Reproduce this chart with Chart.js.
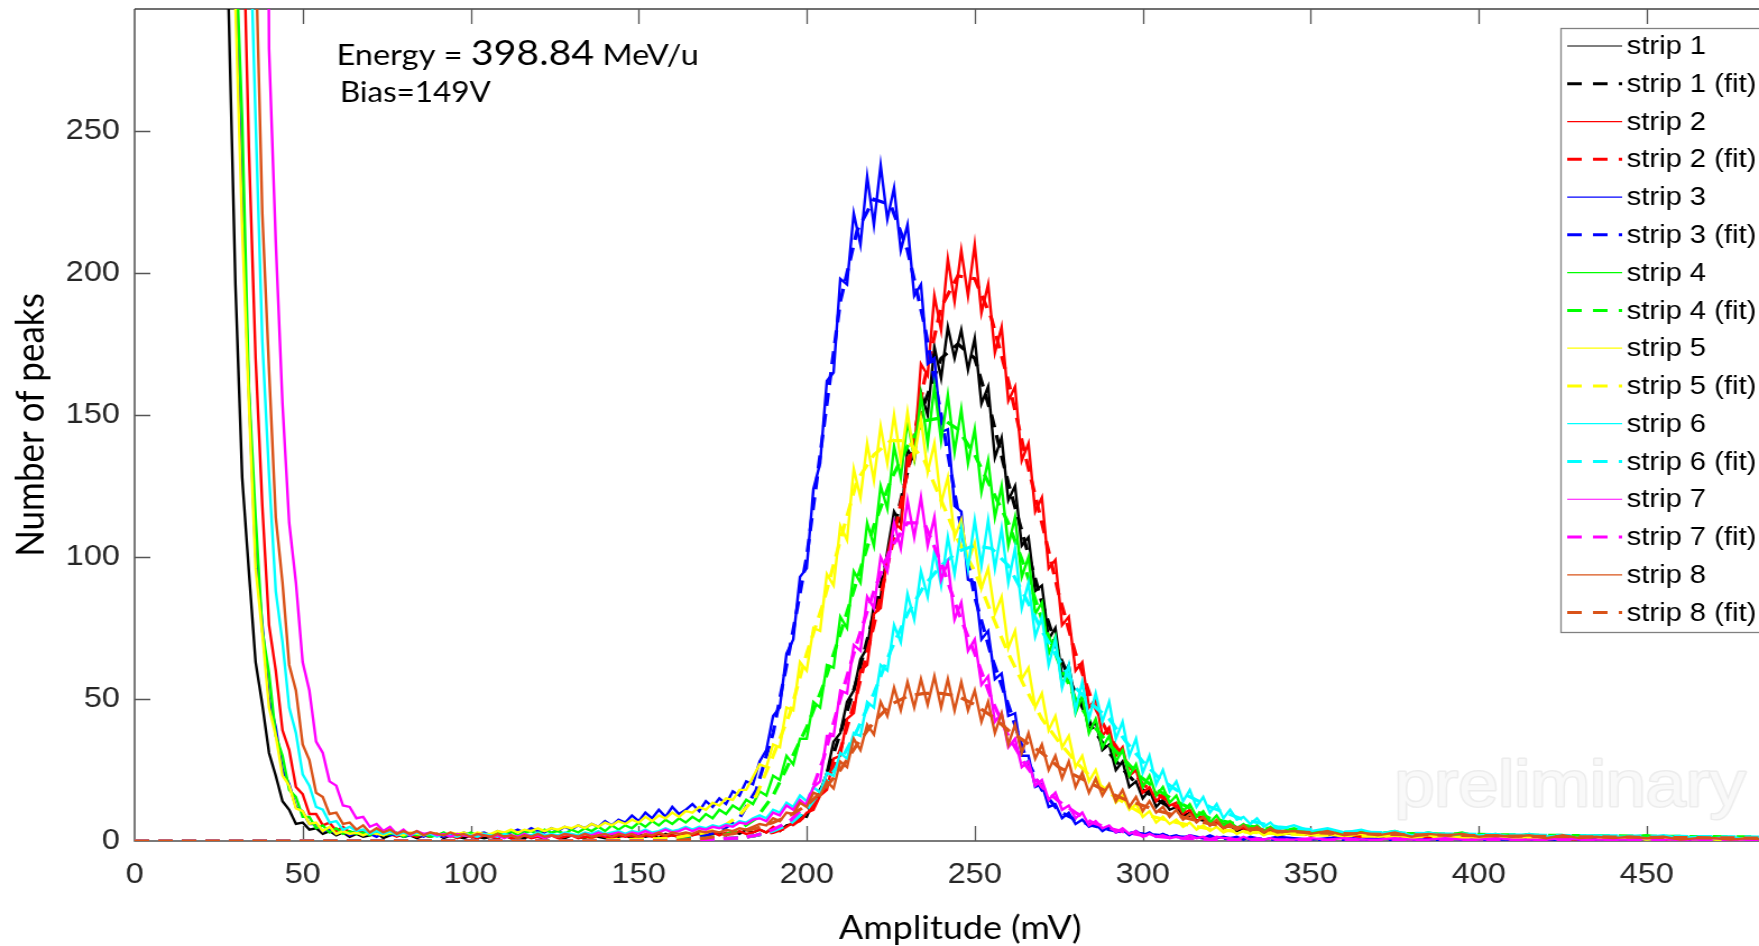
<!DOCTYPE html>
<html>
<head>
<meta charset="utf-8">
<script src="https://cdn.jsdelivr.net/npm/chart.js@4.4.1/dist/chart.umd.min.js"></script>
<style>
html,body{margin:0;padding:0;background:#ffffff;overflow:hidden}
canvas{display:block}
</style>
</head>
<body>
<canvas id="chart" width="1568" height="946" style="width:1759px;height:946px"></canvas>
<script>
// ---------- data ----------
const AMPLITUDE_MV = [
26,28,30,32,34,36,38,40,42,44,
46,48,50,52,54,56,58,60,62,64,
66,68,70,72,74,76,78,80,82,84,
86,88,90,92,94,96,98,100,102,104,
106,108,110,112,114,116,118,120,122,124,
126,128,130,132,134,136,138,140,142,144,
146,148,150,152,154,156,158,160,162,164,
166,168,170,172,174,176,178,180,182,184,
186,188,190,192,194,196,198,200,202,204,
206,208,210,212,214,216,218,220,222,224,
226,228,230,232,234,236,238,240,242,244,
246,248,250,252,254,256,258,260,262,264,
266,268,270,272,274,276,278,280,282,284,
286,288,290,292,294,296,298,300,302,304,
306,308,310,312,314,316,318,320,322,324,
326,328,330,332,334,336,338,340,
345,350,355,360,365,370,375,380,385,390,
395,400,405,410,415,420,425,430,435,440,
445,450,455,460,465,470,475,480,485];

const STRIP_1 = [
400,292,196,128,95,63,48,31,23,14,
11,6,6.5,4,4.5,2.5,3.5,2,3,1.5,
2.5,1.5,2,3,1,2,2.5,1.5,2,1,
2,1.5,2.5,1,2,1.5,1,2,1.5,1,
1.5,1,2,1,1.5,1,2,1.5,1,2,
1.5,1,2,1.5,1,2.5,1.5,1,2,1.5,
2,1,2.5,1.5,2,1,2.5,2,1.5,2.5,
2,3,1.5,2.5,3,2,3.5,2.5,4,3,
4,3,4.5,3.5,5.5,6,9,8.5,14,17,
24,35,38,49,53,64,68,83,86,102,
116,112,138,134,158,150,174,163,181,170,
180,166,177,154,160,135,142,120,125,104,
107,88,90,71,75,58,62,48,50,39,
42,32,34,25,28,19,21,15,18,12,
14.5,11,12,8.5,10,7,8,5.5,7,4.5,
5.5,3.5,4.5,3,4,2.5,3.5,2,
3,2,2.5,1.5,2,2.5,1.5,2,1,2,
1.5,1,2,1.5,1,1.5,0.5,1.5,1,0.5,
1,1.5,0.5,1,0.5,1,0.5,1,0.5];

const STRIP_2 = [
600,500,420,340,244,170,118,76,60,39,
32,19,16.5,9.5,9.5,5.5,6.5,3.5,5,3,
3,3.5,2,3,2,2.5,1.5,2.5,2,1.5,
2,1.5,2.5,1.5,2,1,2,1.5,1,2,
1.5,1,2,1,1.5,2,1,1.5,1,2,
1,1.5,2,1,1.5,1,2,1.5,1,2,
1.5,2,1,2,1.5,2.5,1.5,2,1.5,2.5,
2,2.5,1.5,3,2,3,2.5,3.5,2.5,3,
4,3,5,3.5,5,6.5,7,10,11,16,
18,29,30,43,45,60,62,80,82,100,
112,110,135,137,168,164,192,180,205,190,
208,192,210,186,196,172,181,155,160,134,
140,116,121,96,99,76,79,60,63,47,
50,37,40,30,33,23,25,17,19,14,
16.5,12.5,13.5,9.5,11,7,8.5,5.5,7,4.5,
5.5,4,5,3.5,4.5,3,3.5,2.5,
3,2,2.5,2,1.5,2.5,1.5,2,1,1.5,
1.5,1,2,1,1.5,0.5,1.5,1,0.5,1,
1,0.5,1,0.5,1,0.5,1,0.5,0.5];

const STRIP_3 = [
500,400,304,226,158,101,76,50,40,25,
20,12,10.5,6,6,3.5,4,2.5,3.5,2,
3,2,2.5,1.5,3,2,2.5,1.5,2,2.5,
1.5,2.5,2,1.5,2.5,2,3,2,2.5,3,
2,3.5,2.5,3,4,3,4.5,3.5,3,4.5,
3.5,5,4,5.5,4.5,6,5,7,5.5,7.5,
6.5,9,7,10,8,11,8.5,12,9.5,11,
13,10.5,14,12,15,13,17.5,16,21,20,
28,32,44,47,66,71,93,96,124,133,
162,165,198,196,221,210,234,217,238,219,
230,208,217,192,196,168,170,144,145,118,
116,92,91,71,74,57,59,44,45,30,
30,19,20,12,13,8,10,6,7.5,5,
6,3.5,5,3,4,2,3.5,2,3,1.5,
2.5,1.5,2,1,2,1.5,1,2,1,1.5,
1,1.5,0.5,1.5,1,0.5,1,1.5,
1,0.5,1,1.5,0.5,1,0.5,1,0.5,1,
0.5,1,0.5,0.5,1,0.5,0.5,1,0.5,0.5,
0.5,0.5,1,0.5,0.5,0.5,1,0.5,0.5];

const STRIP_4 = [
500,400,318,254,160,114,74,59,37,30,
18,15.5,8.5,8.5,4.5,5.5,3,4.5,2.5,3.5,
2.5,3,2,3.5,2,2.5,3,1.5,2.5,2,
2.5,1.5,2,3,1.5,2.5,2,3,2,2.5,
2,3,2.5,3.5,2,3,3.5,2.5,4,3,
3.5,2.5,4,3,4.5,3.5,5,3.5,5.5,4,
5.5,4.5,6.5,5,7,5.5,7.5,6,8,6.5,
8.5,7,9.5,8,11,9.5,12.5,11,14.5,13,
17.5,16,23,21.5,30,27,36,36,49,47,
62,61,79,75,95,91,112,104,125,117,
139,128,148,135,157,140,160,141,157,137,
152,133,145,123,134,114,125,104,114,93,
100,80,84,66,72,55,60,45,51,38,
43,33,37,28,32,23,27,19,23,16,
19,13.5,16,10.5,13,8.5,10.5,6.5,9,5.5,
7,4.5,6,4,5.5,3.5,5,3,
4.5,3,4,2.5,3.5,2.5,3.5,2,3,2,
3,1.5,2.5,1.5,2.5,1,2,1.5,2,1,
1.5,2,1,1.5,1,1.5,0.5,1,1];

const STRIP_5 = [
500,400,294,216,154,96,73,47,37,23,
19.5,11.5,10.5,6,6.5,3.5,5,2.5,3.5,2.5,
3,2,3,2.5,2,3,2.5,2,3,2.5,
2,3,2.5,2,3,2.5,3,2,3,2.5,
2.5,3.5,3,4,3,4,3.5,4.5,3.5,4.5,
4,5,4.5,5.5,4.5,6,5,6.5,5.5,7,
6,7.5,6.5,8.5,7,9,8,10,8.5,10.5,
10,12,11,13.5,12.5,15,14.5,18,18,22.5,
27,26,34,33,47,46,63,60,75,74,
94,90,111,106,131,121,140,127,146,133,
150,134,151,135,149,130,140,119,128,107,
113,98,105,89,96,80,86,68,74,57,
61,47,52,39,44,33,37,26,30,21,
25,17.5,20,13.5,16,11,13,8.5,10.5,6.5,
8.5,6,7.5,5,6.5,4,5.5,3.5,5,3,
4,2.5,3.5,2.5,3.5,2,3,2,
3,2,2.5,1.5,2.5,1.5,2,1,2,1,
1.5,1,1.5,0.5,1.5,1,0.5,1,1.5,0.5,
1,0.5,1,0.5,1,0.5,0.5,1,0.5];

const STRIP_6 = [
600,600,600,600,336,254,176,129,88,70,
47,38,23.5,19.5,12,11,6.5,7,4,5,
3.5,4,2.5,3.5,2.5,3.5,2,3,2,3,
2,2.5,1.5,2.5,2,1.5,2.5,2,1.5,2.5,
2,1.5,2.5,2,1.5,2.5,2,3,2,2.5,
2,3,2.5,2,3,2.5,3.5,2.5,3,3.5,
2.5,3.5,3,4,3,3.5,4.5,3.5,4,5,
4,5,4.5,5.5,5,6,5.5,7,6.5,8,
9,8,11,10,13.5,12,16,14,19,17,
24,23,31,29,38,37,49,47,62,60,
76,70,87,78,95,86,102,90,107,94,
110,96,113,97,113,96,110,91,103,82,
91,72,79,62,71,54,62,46,56,43,
52,42,49,36,42,30,36,24,30,20,
25,17.5,21,14,18,12,15.5,10,13,8,
11,7.5,8.5,6,8,5,6.5,4,
5.5,3.5,4.5,3,4,2.5,3.5,2,3,2,
2.5,2,2.5,1.5,2.5,1.5,2,1,2,1.5,
1.5,1,2,1,1.5,1,1.5,0.5,1];

const STRIP_7 = [
700,700,700,700,700,700,700,279,211,154,
112,91,63,53,35,31,21,19.5,12.5,12,
8,8.5,5,6,3.5,5,2.5,4,2,3.5,
2.5,3,2,2.5,1.5,2.5,2,1.5,2.5,2,
1.5,2,1,2,1.5,2.5,1.5,2,1,2,
1.5,2.5,2,1.5,2.5,2,3,2,2.5,3,
2,3,2.5,3.5,2.5,3,4,3,3.5,4.5,
3.5,4.5,4,5,4.5,5.5,5,6.5,6,7.5,
8,7,10,9,12.5,11,14.5,12.5,19,21,
37,37,53,52,69,67,86,82,100,95,
112,103,120,107,121,104,114,92,98,78,
84,67,71,55,58,42,45,33,36,26,
28,19.5,21.5,14.5,17,11,12.5,8,10,5.5,
7,4.5,5.5,3,4.5,2.5,3.5,1.5,2.5,1.5,
2,1,1.5,1,2,1,1.5,0.5,1.5,1,
1,0.5,1.5,0.5,1,0.5,1,0.5,
0.5,1,0.5,1,0.5,0.5,1,0.5,0.5,1,
0.5,0.5,1,0.5,0.5,0.5,1,0.5,0.5,0.5,
0.5,1,0.5,0.5,0.5,1,0.5,0.5,0.5];

const STRIP_8 = [
600,600,600,600,600,314,221,166,114,91,
62,53,34,28.5,17,15.5,9.5,10,6,6.5,
4,5.5,3,4.5,3,4,2.5,3.5,2.5,3.5,
2,3,2.5,2,3,2,2.5,1.5,2.5,2,
1.5,2.5,1.5,2,1,2,1.5,2.5,1.5,2,
1.5,2.5,2,1.5,2.5,1.5,2,2.5,1.5,2.5,
2,2.5,1.5,2.5,2,3,2,3,2.5,3,
2.5,3.5,3,3.5,3,4,3.5,4.5,4,5,
6,5.5,8,7,10,9.5,13.5,12,17,16,
21,18.5,28,26,36,32,41,37.5,49,44,
54,46,56,47,57,48,58,47,57,46,
56,46,53,42,49,38,45,34,41,31,
38,29,34,25,30,22,28,19,24,17,
22,16,20,14,18,12,15.5,10.5,14,10,
12,8.5,11,7.5,9.5,6.5,8.5,5.5,7.5,4.5,
6,4,5.5,3.5,5,3,4.5,3,
3.5,2.5,3.5,2,3,2,3,1.5,2.5,2,
2.5,1.5,2,1.5,2,1,2,1,1.5,1,
1.5,1,1.5,0.5,1,1,0.5,1,0.5];

const FIT_AMPLITUDE_MV = [0,20,40,60,80,100,120,140,160,170,175,180,185,190,195,200,205,210,215,220,225,230,235,240,245,250,255,260,265,270,275,280,285,290,295,300,305,310,320,330,340,350,360,380,400,420,440,460,485];

const FIT_1 = [0,0,0,0,0,0,0,0,0, 0.5,0.8,1,2,3.5,6,10,20,38,57, 80,105,130,154,170,175,170,150,126,105, 84,66,52,40,31,24,18,14,10.5, 6.5,4.5,3.2,2.5,2, 1.5,1,0.8,0.6,0.5, 0.4];
const FIT_2 = [0,0,0,0,0,0,0,0,0, 0.5,0.8,1,2,3,5,9,18,32,52, 76,102,130,162,188,199,198,184,162,136, 112,87,66,49,37,28,20,16,12, 7,4.5,3.2,2.5,2, 1.5,1,0.8,0.6,0.5, 0.4];
const FIT_3 = [0,0,0,0,0,0,0,0,0.5, 2,4,8,18,38,68,100,145,190,215, 226,224,208,182,150,116,86,65,48,30, 18,10.5,7.5,5.5,4,3,2.5,2,1.5, 1,0.8,0.6,0.5,0.4, 0.3,0.2,0.2,0.1,0.1, 0.1];
const FIT_4 = [0,0,0,0,0,0,0,0,0.5, 1,2,4,8,16,28,40,55,73,92, 111,127,139,148,149,145,136,124,112,96, 78,63,50,41,34,28,22,17.5,14, 8,5.5,4,3.3,3, 2.6,2.3,2,1.8,1.6, 1.4];
const FIT_5 = [0,0,0,0,0,0,0,0.3,1, 3,5,9,16,30,45,66,84,106,127, 136,141,141,134,120,106,95,80,66,54, 43,35,28,22,17,13,9.5,8,6.5, 4.2,3.2,2.6,2.2,1.9, 1.5,1.2,1,0.8,0.7, 0.6];
const FIT_6 = [0,0,0,0,0,0,0,0,0, 0.5,0.8,1,2,3.5,6,11,19,28,39, 52,67,80,90,97,102,104,103,97,86, 74,64,54,48,43,35,28,22,18, 12,7.5,5,4,3.2, 2.7,2.3,2,1.8,1.6, 1.4];
const FIT_7 = [0,0,0,0,0,0,0,0,0, 0.5,0.8,1,2,4,7,13,29,50,70, 88,103,112,112,98,81,66,50,37,27, 19,14,10,6.5,4.5,3,2,1.5,1, 0.6,0.4,0.3,0.2,0.2, 0.1,0.1,0.1,0.1,0.1, 0.1];
const FIT_8 = [0,0,0,0,0,0,0,0,0, 1,2,3,4.5,6.5,9,12.5,18,25,34, 42,48,51,52,52,51,48,44,39,35, 31,26,23,20,17,14.5,12.5,10.5,9, 6,4.5,3.5,3,2.6, 2.2,1.9,1.6,1.4,1.2, 1];

const STRIP_NAMES = ['strip 1','strip 2','strip 3','strip 4','strip 5','strip 6','strip 7','strip 8'];
const STRIP_COLORS = ['#000000','#ff0000','#0000ff','#00ff00','#ffff00','#00ffff','#ff00ff','#d95319'];
const X_TICKS = [0,50,100,150,200,250,300,350,400,450];
const Y_TICKS = [0,50,100,150,200,250];
const X_TITLE = 'Amplitude (mV)';
const Y_TITLE = 'Number of peaks';
const ENERGY_VALUE = '398.84';
const BIAS_TEXT = 'Bias=149V';
const WATERMARK = 'preliminary';

// ---------- build datasets ----------
const RAW = [STRIP_1,STRIP_2,STRIP_3,STRIP_4,STRIP_5,STRIP_6,STRIP_7,STRIP_8];
const FITS = [FIT_1,FIT_2,FIT_3,FIT_4,FIT_5,FIT_6,FIT_7,FIT_8];
const pairs = (xs, ys) => xs.map((x, i) => ({x: x, y: ys[i]}));

const datasets = [];
STRIP_NAMES.forEach((name, i) => {
  const k = datasets.length;
  datasets.push({
    label: name, data: pairs(AMPLITUDE_MV, RAW[i]),
    borderColor: STRIP_COLORS[i], backgroundColor: STRIP_COLORS[i],
    borderWidth: 2.4, pointRadius: 0, tension: 0, fill: false,
    order: 100 - k, legendWidth: 1.2, legendDash: []
  });
  datasets.push({
    label: name + ' (fit)', data: pairs(FIT_AMPLITUDE_MV, FITS[i]),
    borderColor: STRIP_COLORS[i], backgroundColor: STRIP_COLORS[i],
    borderWidth: 3.2, borderDash: [13, 8], pointRadius: 0, tension: 0, fill: false,
    order: 99 - k, legendWidth: 3, legendDash: [13, 10]
  });
});

const TICK_FONT = '"Liberation Sans", Arial, Helvetica, sans-serif';
const LABEL_FONT = 'Lato, "Open Sans", sans-serif';

// ---------- plugins ----------
const framePlugin = {
  id: 'frame',
  beforeDatasetsDraw(chart) {
    const {ctx, chartArea: a, scales: {x, y}} = chart;
    ctx.save();
    // watermark
    ctx.font = '64px ' + TICK_FONT;
    ctx.textBaseline = 'alphabetic';
    ctx.lineJoin = 'round';
    ctx.lineWidth = 3;
    ctx.strokeStyle = '#ececec';
    ctx.fillStyle = '#f9f9f9';
    ctx.strokeText(WATERMARK, 1243, 806);
    ctx.fillText(WATERMARK, 1243, 806);
    // axes lines
    ctx.strokeStyle = '#7a7a7a';
    ctx.lineWidth = 2;
    ctx.beginPath();
    ctx.moveTo(a.left, a.top); ctx.lineTo(a.left, a.bottom); ctx.lineTo(a.right, a.bottom);
    ctx.stroke();
    ctx.strokeStyle = '#404040';
    ctx.lineWidth = 1.5;
    ctx.beginPath();
    ctx.moveTo(a.left, a.top); ctx.lineTo(a.right, a.top);
    ctx.stroke();
    // inward ticks
    ctx.strokeStyle = '#555555';
    ctx.lineWidth = 1.3;
    ctx.beginPath();
    X_TICKS.forEach(v => {
      if (v === 0) return;
      const px = Math.round(x.getPixelForValue(v)) + 0.5;
      ctx.moveTo(px, a.bottom); ctx.lineTo(px, a.bottom - 15);
      ctx.moveTo(px, a.top); ctx.lineTo(px, a.top + 15);
    });
    Y_TICKS.forEach(v => {
      if (v === 0) return;
      const py = Math.round(y.getPixelForValue(v)) + 0.5;
      ctx.moveTo(a.left, py); ctx.lineTo(a.left + 14, py);
    });
    ctx.stroke();
    ctx.restore();
  }
};

const overlayPlugin = {
  id: 'overlay',
  afterDatasetsDraw(chart) {
    const ctx = chart.ctx;
    ctx.save();
    // annotation
    ctx.fillStyle = '#000000';
    ctx.textBaseline = 'alphabetic';
    ctx.textAlign = 'left';
    let cx = 300;
    ctx.font = '29px ' + LABEL_FONT;
    ctx.fillText('Energy = ', cx, 65);
    cx += ctx.measureText('Energy = ').width;
    ctx.font = '35px ' + LABEL_FONT;
    ctx.fillText(ENERGY_VALUE, cx, 65);
    cx += ctx.measureText(ENERGY_VALUE).width;
    ctx.font = '29px ' + LABEL_FONT;
    ctx.fillText(' MeV/u', cx, 65);
    ctx.font = '28px ' + LABEL_FONT;
    ctx.fillText(BIAS_TEXT, 303, 102);

    // x-axis title (centred where the original, uncropped axis had it)
    ctx.font = '32px ' + LABEL_FONT;
    ctx.textAlign = 'center';
    ctx.textBaseline = 'middle';
    ctx.fillText(X_TITLE, 856, 929);

    // legend
    const ds = chart.data.datasets;
    const boxL = 1391, boxT = 28, boxB = 632, rowH = 37.77, firstY = 46;
    ctx.fillStyle = '#ffffff';
    ctx.fillRect(boxL, boxT, 200, boxB - boxT);
    ctx.strokeStyle = '#808080';
    ctx.lineWidth = 1.3;
    ctx.strokeRect(boxL + 0.5, boxT + 0.5, 200, boxB - boxT);
    ctx.font = '26px ' + TICK_FONT;
    ctx.textAlign = 'left';
    ctx.textBaseline = 'middle';
    ds.forEach((d, i) => {
      const yy = firstY + i * rowH;
      ctx.beginPath();
      ctx.setLineDash(d.legendDash);
      ctx.lineWidth = d.legendWidth;
      ctx.strokeStyle = d.borderColor;
      ctx.moveTo(1397, yy); ctx.lineTo(1446, yy);
      ctx.stroke();
      ctx.setLineDash([]);
      ctx.fillStyle = '#000000';
      ctx.fillText(d.label, 1450, yy + 1);
    });
    ctx.restore();
  }
};

new Chart(document.getElementById('chart'), {
  type: 'line',
  data: { datasets: datasets },
  options: {
    responsive: false,
    animation: false,
    devicePixelRatio: 1,
    layout: { padding: { top: 9, left: 0, right: 0, bottom: 0 } },
    plugins: { legend: { display: false }, tooltip: { enabled: false } },
    scales: {
      x: {
        type: 'linear', min: 0, max: 483.4, position: 'bottom',
        grid: { display: false, drawTicks: false },
        border: { display: false },
        ticks: { stepSize: 50, includeBounds: false, autoSkip: false, maxRotation: 0,
                 color: '#262626', padding: 17, font: { family: TICK_FONT, size: 29 } },
        title: { display: false, text: X_TITLE },
        afterFit(s) { s.height = 105; s.paddingLeft = 0; s.paddingRight = 0; }
      },
      y: {
        type: 'linear', min: 0, max: 293,
        grid: { display: false, drawTicks: false },
        border: { display: false },
        ticks: { stepSize: 50, includeBounds: false, color: '#262626', padding: 13,
                 font: { family: TICK_FONT, size: 29 } },
        title: { display: true, text: Y_TITLE, color: '#000000',
                 font: { family: LABEL_FONT, size: 35, lineHeight: 1 }, padding: { top: 10, bottom: 0 } },
        afterFit(s) { s.width = 120; s.paddingTop = 0; s.paddingBottom = 0; }
      }
    }
  },
  plugins: [framePlugin, overlayPlugin]
});
</script>
</body>
</html>
